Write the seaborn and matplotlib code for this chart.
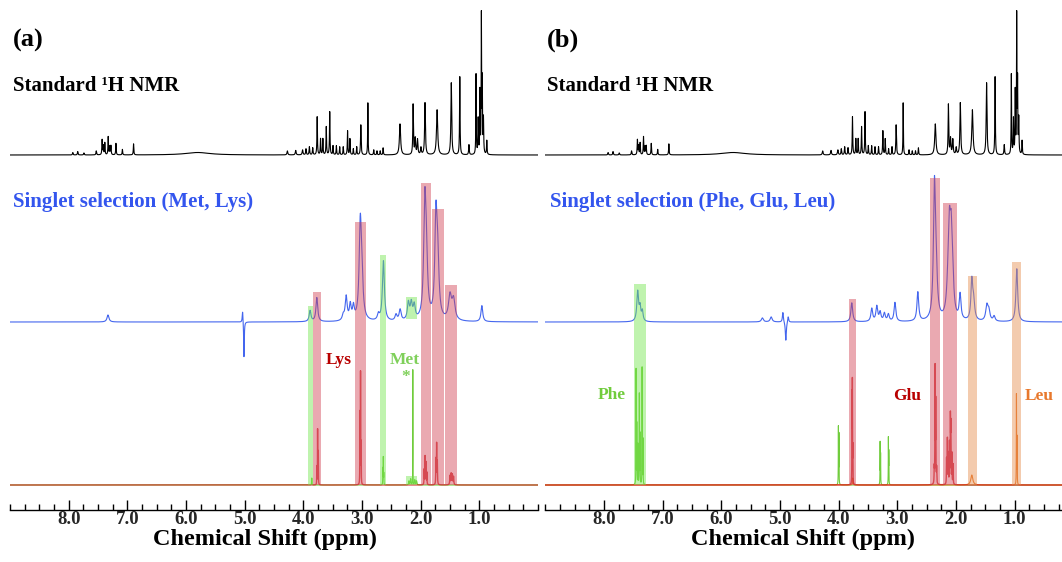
import numpy as np
import matplotlib
matplotlib.use("Agg")
import matplotlib.pyplot as plt
from matplotlib.patches import Rectangle
from matplotlib.ticker import MultipleLocator, FixedLocator
import seaborn as sns

sns.set_theme(style="white")
plt.rcParams['font.family'] = ['Liberation Serif', 'DejaVu Serif']
plt.rcParams['font.weight'] = 'bold'

# ---------------- data (ppm, height, half-width) ----------------
# Standard 1H NMR (same sample shown in both panels)
std_ppm = [7.93, 7.846, 7.74, 7.53, 7.43, 7.41, 7.384, 7.326, 7.30, 7.28, 7.194, 7.084, 6.894,
           5.80, 4.272, 4.13, 4.013, 3.955, 3.897, 3.84, 3.764, 3.707, 3.667, 3.609, 3.55,
           3.494, 3.437, 3.38, 3.32, 3.246, 3.206, 3.148, 3.09, 3.02, 2.90, 2.80, 2.745, 2.69,
           2.64, 2.352, 2.129, 2.093, 2.054, 1.996, 1.926, 1.72, 1.478, 1.333, 1.177, 1.056,
           1.02, 0.99, 0.965, 0.95, 0.93, 0.873]
std_h = [2.4, 3.4, 2, 4, 15, 9, 12, 18, 8, 9, 11.5, 5.5, 11,
         2.5, 4, 4.5, 5, 6, 8, 7, 38, 16, 16, 28, 43,
         9, 9, 8, 8, 24, 16, 6, 8, 30, 52, 5, 4, 4,
         7, 31, 50, 16, 15, 7, 52, 45, 72, 78, 10, 80,
         35, 62, 137, 70, 35, 14]
std_w = [.006, .006, .006, .006, .005, .005, .005, .005, .005, .005, .005, .005, .005,
         .25, .008, .008, .008, .006, .006, .006, .005, .005, .005, .005, .005,
         .005, .005, .005, .005, .005, .005, .005, .005, .006, .004, .005, .005, .005,
         .005, .012, .006, .008, .008, .008, .008, .012, .008, .005, .006, .004,
         .005, .004, .004, .004, .005, .005]

# Singlet selection, panel (a)
sel_a_ppm = [7.33, 5.035, 5.012, 3.885, 3.77, 3.32, 3.27, 3.20, 3.146, 3.03, 3.005, 2.72, 2.635,
             2.42, 2.35, 2.21, 2.16, 2.11, 1.93, 1.905, 1.74, 1.71, 1.50, 1.44, 0.957]
sel_a_h = [7, 12, -36, 11, 24, 5, 24, 15, 13, 88, 38, 6, 60,
           6, 11, 17, 16, 14, 102, 58, 95, 55, 24, 20, 16]
sel_a_w = [.02, .008, .006, .018, .018, .02, .02, .018, .018, .022, .025, .02, .02,
           .02, .02, .02, .02, .02, .022, .025, .022, .025, .03, .03, .018]

# Singlet selection, panel (b)
sel_b_ppm = [7.425, 7.385, 7.346, 5.30, 5.15, 4.95, 4.90, 4.86, 3.776, 3.435, 3.35, 3.293, 3.22,
             3.152, 3.04, 2.65, 2.367, 2.34, 2.13, 2.11, 2.083, 2.06, 1.93, 1.73, 1.70,
             1.474, 1.44, 1.35, 0.963]
sel_b_h = [30, 13, 10, 4, 5, 10, -19, 6, 19, 13, 15, 9, 8,
           7, 19, 29, 125, 42, 35, 62, 60, 35, 25, 38, 18,
           15, 10, 5, 53]
sel_b_w = [.018, .015, .015, .02, .02, .01, .01, .01, .018, .018, .018, .018, .018,
           .018, .018, .018, .02, .025, .03, .02, .02, .025, .018, .018, .022,
           .022, .022, .02, .018]

# Reference spectra, panel (a)
lys_ppm = [3.77, 3.757, 3.745, 3.035, 3.025, 3.015, 1.94, 1.925, 1.91, 1.895, 1.74, 1.728,
           1.716, 1.50, 1.48, 1.46, 1.44]
lys_h = [18, 55, 33, 70, 110, 40, 15, 28, 22, 12, 25, 40, 22, 9, 11, 10, 8]
lys_w = [.002, .002, .002, .002, .002, .002, .003, .003, .003, .003, .003, .003, .003,
         .005, .005, .005, .005]
met_ppm = [3.856, 2.645, 2.637, 2.629, 2.134, 2.20, 2.17, 2.10, 2.07]
met_h = [7, 16, 27, 11, 115, 4, 6, 5, 4]
met_w = [.003, .002, .002, .002, .0012, .006, .006, .006, .006]

# Reference spectra, panel (b)
phe_ppm = [7.453, 7.44, 7.42, 7.397, 7.385, 7.35, 7.335, 4.004, 3.995, 3.293, 3.285, 3.152, 3.145]
phe_h = [115, 60, 40, 90, 50, 117, 45, 57, 50, 42, 30, 46, 32]
phe_w = [.002] * 13
glu_ppm = [3.772, 3.766, 3.758, 2.37, 2.356, 2.345, 2.33, 2.16, 2.146, 2.13, 2.11, 2.095,
           2.088, 2.07, 2.05]
glu_h = [85, 97, 35, 15, 115, 80, 15, 25, 45, 30, 40, 63, 55, 30, 20]
glu_w = [.002] * 3 + [.003] * 12
leu_ppm = [3.76, 1.73, 0.969, 0.958]
leu_h = [7, 10, 90, 47]
leu_w = [.005, .02, .002, .002]

# highlight boxes: (ppm_hi, ppm_lo, y_bottom, y_top, kind)
boxes_a = [(3.914, 3.829, 25, 204, 'g'), (3.829, 3.697, 25, 218, 'r'),
           (3.113, 2.930, 25, 288, 'r'), (2.691, 2.584, 25, 255, 'g'),
           (2.253, 2.066, 191, 213, 'g'), (2.253, 2.066, 25, 34, 'g'),
           (1.992, 1.818, 25, 327, 'r'), (1.806, 1.605, 25, 301, 'r'),
           (1.578, 1.373, 25, 225, 'r')]
boxes_b = [(7.483, 7.288, 25, 226, 'g'), (3.817, 3.708, 25, 211, 'r'),
           (2.44, 2.27, 25, 332, 'r'), (2.224, 1.985, 25, 307, 'r'),
           (1.80, 1.645, 25, 234, 'o'), (1.05, 0.89, 25, 248, 'o')]

# ---------------- helpers ----------------
grid = np.arange(9.05, -0.15, -0.001)


def spectrum(centers, heights, widths):
    c = np.asarray(centers)[:, None]
    h = np.asarray(heights)[:, None]
    w = np.asarray(widths)[:, None]
    return (h * w ** 2 / ((grid[None, :] - c) ** 2 + w ** 2)).sum(axis=0)


BLACK_BASE, BLUE_BASE, REF_BASE = 355, 188, 25
BLUE = '#4466ee'
TITLE_BLUE = '#3355ee'
DARKRED = '#b80000'
REDLINE = '#d01818'
GREEN = '#70cc3c'
ORANGE = '#e8782c'
box_col = {'r': (0.82, 0.25, 0.32), 'g': (0.45, 0.90, 0.30), 'o': (0.90, 0.55, 0.30)}

W, H = 1062, 562
fig = plt.figure(figsize=(W / 100, H / 100), dpi=100)


def make_axes(left_px, label_center_px):
    ax = fig.add_axes([left_px / W, (H - 510) / H, 528 / W, 510 / H])
    ax.set_xlim(9.0, 0.0)
    ax.set_ylim(0, 510)
    for s in ['left', 'right', 'top']:
        ax.spines[s].set_visible(False)
    ax.spines['bottom'].set_color('black')
    ax.spines['bottom'].set_linewidth(1.0)
    ax.set_yticks([])
    ax.xaxis.set_major_locator(FixedLocator([8, 7, 6, 5, 4, 3, 2, 1]))
    ax.xaxis.set_minor_locator(MultipleLocator(0.25))
    ax.set_xticklabels(['8.0', '7.0', '6.0', '5.0', '4.0', '3.0', '2.0', '1.0'])
    ax.tick_params(axis='x', which='major', direction='in', length=7, width=1,
                   color='black', labelsize=13.5, pad=0.5, bottom=True)
    ax.tick_params(axis='x', which='minor', direction='in', length=4, width=1,
                   color='black', bottom=True)
    for t in ax.get_xticklabels():
        t.set_fontweight('bold')
    ax.set_xlabel('Chemical Shift (ppm)', fontsize=17.5, fontweight='bold', color='black')
    ax.xaxis.set_label_coords((label_center_px - left_px) / 528, -(529 - 510) / 510)
    ax.patch.set_alpha(0)
    return ax


def line(ax, y, color, lw, z=2, alpha=1.0):
    sns.lineplot(x=grid, y=y, ax=ax, color=color, linewidth=lw, estimator=None,
                 sort=False, legend=False, zorder=z, alpha=alpha)


def boxes(ax, blist):
    for hi, lo, y0, y1, k in blist:
        ax.add_patch(Rectangle((lo, y0), hi - lo, y1 - y0, facecolor=box_col[k],
                               alpha=0.45, edgecolor='none', zorder=5))


std = spectrum(std_ppm, std_h, std_w) + BLACK_BASE

# ---- panel (a)
axa = make_axes(10, 264.5)
line(axa, std, 'black', 0.8)
line(axa, spectrum(sel_a_ppm, sel_a_h, sel_a_w) + BLUE_BASE, BLUE, 0.8)
line(axa, spectrum(met_ppm, met_h, met_w) + REF_BASE, GREEN, 0.8)
line(axa, spectrum(lys_ppm, lys_h, lys_w) + REF_BASE, REDLINE, 1.0, z=3, alpha=0.75)
boxes(axa, boxes_a)

# ---- panel (b)
axb = make_axes(545.3, 803)
line(axb, std, 'black', 0.8)
line(axb, spectrum(sel_b_ppm, sel_b_h, sel_b_w) + BLUE_BASE, BLUE, 0.8)
line(axb, spectrum(phe_ppm, phe_h, phe_w) + REF_BASE, GREEN, 0.8)
line(axb, spectrum(leu_ppm, leu_h, leu_w) + REF_BASE, ORANGE, 0.8)
line(axb, spectrum(glu_ppm, glu_h, glu_w) + REF_BASE, REDLINE, 1.0, z=3, alpha=0.75)
boxes(axb, boxes_b)


def ftext(px, py, s, size, color='black', ha='left', va='baseline'):
    fig.text(px / W, 1 - py / H, s, fontsize=size, color=color, ha=ha, va=va,
             fontweight='bold', family=['Liberation Serif', 'DejaVu Serif'])


ftext(12.7, 47, '(a)', 19)
ftext(12.7, 91, 'Standard \u00b9H NMR', 15)
ftext(12.7, 206.5, 'Singlet selection (Met, Lys)', 15, TITLE_BLUE)
ftext(339, 364, 'Lys', 12.5, DARKRED, ha='center')
ftext(404.7, 364, 'Met', 12.5, '#7fd05a', ha='center')
ftext(405.7, 381, '*', 12.5, '#7fd05a', ha='center')

ftext(547, 47, '(b)', 19)
ftext(547, 91, 'Standard \u00b9H NMR', 15)
ftext(549.7, 206.5, 'Singlet selection (Phe, Glu, Leu)', 15, TITLE_BLUE)
ftext(612, 399, 'Phe', 12.5, GREEN, ha='center')
ftext(907, 400, 'Glu', 12.5, DARKRED, ha='center')
ftext(1039.5, 400, 'Leu', 12.5, ORANGE, ha='center')

fig.savefig('out.png', dpi=100)
